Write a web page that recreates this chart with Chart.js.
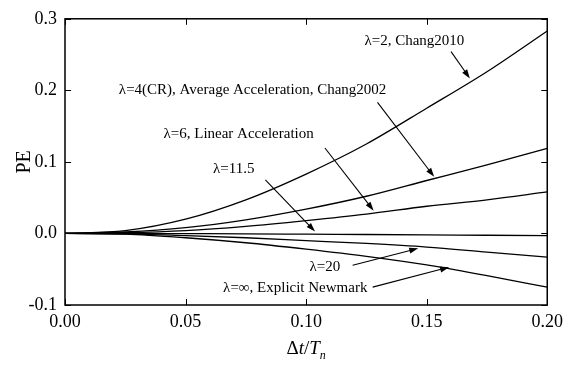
<!DOCTYPE html>
<html>
<head>
<meta charset="utf-8">
<script src="https://cdn.jsdelivr.net/npm/chart.js@4.4.0/dist/chart.umd.min.js"></script>
<style>
  html, body { margin: 0; padding: 0; background: #fff; }
  #wrap { width: 569px; height: 365px; }
</style>
</head>
<body>
<div id="wrap"><canvas id="chart"></canvas></div>
<script>
// Δt/Tn sample points and PE values
const dtRatio = [0, 0.025, 0.05, 0.075, 0.10, 0.125, 0.15, 0.175, 0.20];
const peLambda2 = [0, 0.004, 0.020, 0.047, 0.083, 0.125, 0.175, 0.226, 0.283];
const peLambda4 = [0, 0.002, 0.008, 0.019, 0.034, 0.052, 0.074, 0.096, 0.119];
const peLambda6 = [0, 0.001, 0.004, 0.010, 0.018, 0.027, 0.038, 0.047, 0.058];
const peLambda115 = [0, -0.0001, -0.0003, -0.0005, -0.001, -0.0015, -0.002, -0.0025, -0.003];
const peLambda20 = [0, -0.0005, -0.003, -0.006, -0.010, -0.014, -0.019, -0.026, -0.033];
const peLambdaInf = [0, -0.001, -0.006, -0.013, -0.022, -0.032, -0.044, -0.059, -0.075];
const xTicks = [0, 0.05, 0.10, 0.15, 0.20];
const yTicks = [-0.1, 0.0, 0.1, 0.2, 0.3];

// label text, label centre, arrow start, arrow tip (data units)
const notes = [
  { text: 'λ=2, Chang2010', at: [0.1449, 0.2694], from: [0.1601, 0.2542], to: [0.1679, 0.2167] },
  { text: 'λ=4(CR), Average Acceleration, Chang2002', at: [0.0778, 0.2000], from: [0.1296, 0.1833], to: [0.1531, 0.0792] },
  { text: 'λ=6, Linear Acceleration', at: [0.0720, 0.1389], from: [0.1078, 0.1194], to: [0.1280, 0.0319] },
  { text: 'λ=11.5', at: [0.0700, 0.0903], from: [0.0831, 0.0750], to: [0.1037, 0.0028] },
  { text: 'λ=20', at: [0.1078, -0.0472], from: [0.1193, -0.0444], to: [0.1465, -0.0208] },
  { text: 'λ=∞, Explicit Newmark', at: [0.0955, -0.0764], from: [0.1276, -0.0750], to: [0.1593, -0.0472] }
];

const serif = '"Liberation Serif", "DejaVu Serif", serif';

function series(vals) {
  return {
    data: dtRatio.map((x, i) => ({ x: x, y: vals[i] })),
    borderColor: '#000',
    borderWidth: 1.3,
    pointRadius: 0,
    fill: false,
    cubicInterpolationMode: 'monotone'
  };
}

function arrow(ctx, x1, y1, x2, y2) {
  const a = Math.atan2(y2 - y1, x2 - x1);
  const len = 9, half = 3;
  ctx.beginPath();
  ctx.moveTo(x1, y1);
  ctx.lineTo(x2 - len * 0.6 * Math.cos(a), y2 - len * 0.6 * Math.sin(a));
  ctx.stroke();
  ctx.beginPath();
  ctx.moveTo(x2, y2);
  ctx.lineTo(x2 - len * Math.cos(a) + half * Math.sin(a), y2 - len * Math.sin(a) - half * Math.cos(a));
  ctx.lineTo(x2 - len * Math.cos(a) - half * Math.sin(a), y2 - len * Math.sin(a) + half * Math.cos(a));
  ctx.closePath();
  ctx.fill();
}

// frame, inward ticks, axis titles, annotations
const decor = {
  id: 'decor',
  afterDraw(chart) {
    const ctx = chart.ctx, a = chart.chartArea;
    const xs = chart.scales.x, ys = chart.scales.y;
    ctx.save();
    ctx.strokeStyle = '#000';
    ctx.fillStyle = '#000';
    ctx.lineWidth = 1.5;
    ctx.strokeRect(a.left, a.top, a.right - a.left, a.bottom - a.top);

    ctx.lineWidth = 1;
    const t = 6;
    xTicks.forEach(v => {
      const px = Math.round(xs.getPixelForValue(v)) + 0.5;
      ctx.beginPath();
      ctx.moveTo(px, a.bottom); ctx.lineTo(px, a.bottom - t);
      ctx.moveTo(px, a.top); ctx.lineTo(px, a.top + t);
      ctx.stroke();
    });
    yTicks.forEach(v => {
      const py = Math.round(ys.getPixelForValue(v)) + 0.5;
      ctx.beginPath();
      ctx.moveTo(a.left, py); ctx.lineTo(a.left + t, py);
      ctx.moveTo(a.right, py); ctx.lineTo(a.right - t, py);
      ctx.stroke();
    });

    // y title
    ctx.font = '20px ' + serif;
    ctx.textAlign = 'center';
    ctx.textBaseline = 'middle';
    ctx.save();
    ctx.translate(25, (a.top + a.bottom) / 2);
    ctx.rotate(-Math.PI / 2);
    ctx.fillText('PE', 0, 0);
    ctx.restore();

    // x title: Δt/Tn with italics and subscript
    const parts = [
      { s: 'Δ', f: '19px ' + serif, dy: 0 },
      { s: 't', f: 'italic 19px ' + serif, dy: 0 },
      { s: '/', f: '19px ' + serif, dy: 0 },
      { s: 'T', f: 'italic 19px ' + serif, dy: 0 },
      { s: 'n', f: 'italic 12px ' + serif, dy: 5 }
    ];
    let w = 0;
    parts.forEach(p => { ctx.font = p.f; w += ctx.measureText(p.s).width; });
    let cx = (a.left + a.right) / 2 - w / 2;
    ctx.textAlign = 'left';
    ctx.textBaseline = 'alphabetic';
    parts.forEach(p => {
      ctx.font = p.f;
      ctx.fillText(p.s, cx, 354 + p.dy);
      cx += ctx.measureText(p.s).width;
    });

    // annotations
    ctx.font = '15px ' + serif;
    ctx.textAlign = 'center';
    ctx.textBaseline = 'middle';
    ctx.lineWidth = 1.1;
    notes.forEach(n => {
      ctx.fillText(n.text, xs.getPixelForValue(n.at[0]), ys.getPixelForValue(n.at[1]));
      arrow(ctx,
        xs.getPixelForValue(n.from[0]), ys.getPixelForValue(n.from[1]),
        xs.getPixelForValue(n.to[0]), ys.getPixelForValue(n.to[1]));
    });
    ctx.restore();
  }
};

new Chart(document.getElementById('chart'), {
  type: 'line',
  data: {
    datasets: [
      series(peLambda2), series(peLambda4), series(peLambda6),
      series(peLambda115), series(peLambda20), series(peLambdaInf)
    ]
  },
  options: {
    responsive: true,
    maintainAspectRatio: false,
    animation: false,
    layout: { padding: { top: 17, right: 18, left: 0, bottom: 0 } },
    plugins: { legend: { display: false }, tooltip: { enabled: false } },
    scales: {
      x: {
        type: 'linear', min: 0, max: 0.2,
        afterBuildTicks: s => { s.ticks = xTicks.map(v => ({ value: v })); },
        afterFit: s => { s.height = 60; },
        grid: { display: false, drawTicks: false },
        border: { display: false },
        ticks: {
          padding: 6, color: '#000', maxRotation: 0,
          font: { family: serif, size: 18 },
          callback: v => v.toFixed(2)
        }
      },
      y: {
        type: 'linear', min: -0.1, max: 0.3,
        afterBuildTicks: s => { s.ticks = yTicks.map(v => ({ value: v })); },
        afterFit: s => { s.width = 65; },
        grid: { display: false, drawTicks: false },
        border: { display: false },
        ticks: {
          padding: 8, color: '#000',
          font: { family: serif, size: 18 },
          callback: v => v.toFixed(1)
        }
      }
    }
  },
  plugins: [decor]
});
</script>
</body>
</html>
